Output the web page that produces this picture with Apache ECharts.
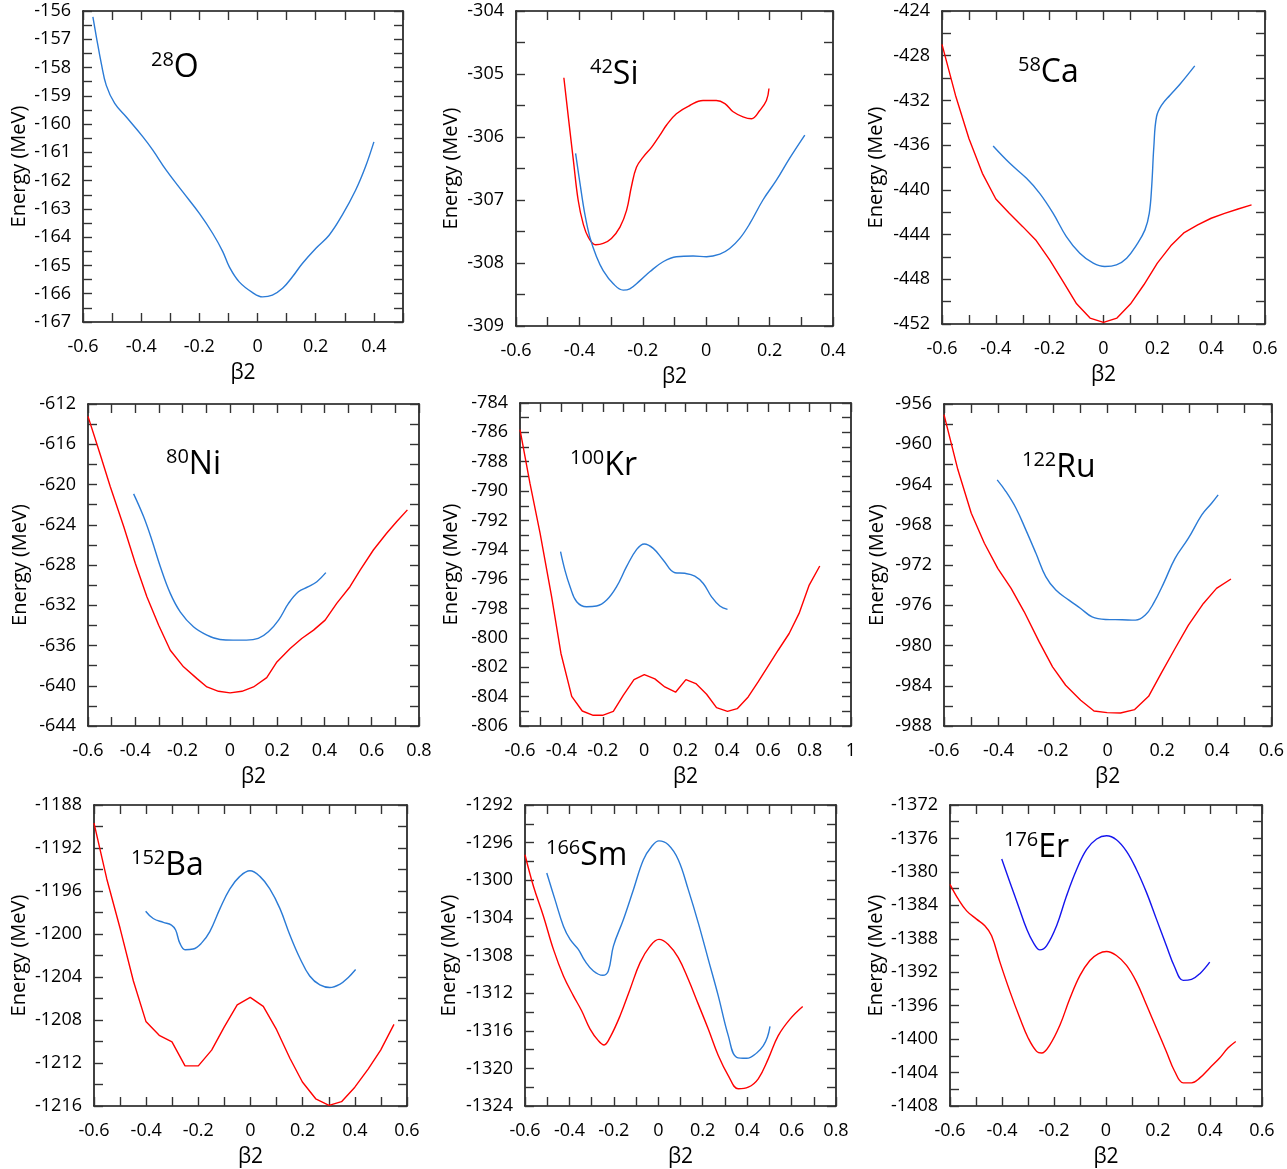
<!DOCTYPE html>
<html><head><meta charset="utf-8">
<script src="https://cdn.jsdelivr.net/npm/echarts@6/dist/echarts.min.js"></script>
<style>html,body{margin:0;padding:0;background:#fff}#c{width:1287px;height:1169px}</style>
</head><body><div id="c"></div>
<script>
// ---------- data: [beta2, energy (MeV)] ----------
const o28Blue = [[-0.566,-156.21],[-0.554,-156.92],[-0.537,-157.86],[-0.52,-158.63],[-0.491,-159.27],[-0.451,-159.75],[-0.394,-160.45],[-0.36,-160.92],[-0.314,-161.63],[-0.257,-162.4],[-0.2,-163.16],[-0.154,-163.87],[-0.12,-164.5],[-0.097,-165.05],[-0.063,-165.58],[-0.017,-165.96],[0.017,-166.11],[0.051,-166.05],[0.086,-165.81],[0.12,-165.4],[0.154,-164.93],[0.2,-164.4],[0.246,-163.93],[0.291,-163.22],[0.337,-162.34],[0.371,-161.51],[0.4,-160.63]];

const si42Red = [[-0.449,-305.06],[-0.435,-305.68],[-0.419,-306.37],[-0.404,-307.0],[-0.388,-307.38],[-0.372,-307.59],[-0.349,-307.71],[-0.325,-307.69],[-0.299,-307.61],[-0.272,-307.43],[-0.251,-307.16],[-0.236,-306.79],[-0.22,-306.48],[-0.199,-306.32],[-0.172,-306.16],[-0.146,-305.97],[-0.125,-305.81],[-0.094,-305.63],[-0.052,-305.5],[-0.01,-305.42],[0.032,-305.42],[0.059,-305.47],[0.085,-305.6],[0.116,-305.68],[0.143,-305.71],[0.169,-305.58],[0.19,-305.42],[0.198,-305.23]];
const si42Blue = [[-0.412,-306.26],[-0.398,-306.74],[-0.383,-307.22],[-0.367,-307.59],[-0.346,-307.9],[-0.325,-308.12],[-0.293,-308.33],[-0.262,-308.43],[-0.241,-308.41],[-0.209,-308.28],[-0.178,-308.14],[-0.136,-307.98],[-0.094,-307.9],[-0.041,-307.89],[0.001,-307.9],[0.043,-307.86],[0.074,-307.77],[0.106,-307.61],[0.137,-307.38],[0.179,-307.0],[0.221,-306.69],[0.263,-306.34],[0.311,-305.97]];

const ca58Red = [[-0.6,-426.98],[-0.55,-431.53],[-0.5,-435.4],[-0.45,-438.52],[-0.4,-440.82],[-0.35,-442.1],[-0.3,-443.29],[-0.25,-444.54],[-0.2,-446.26],[-0.15,-448.2],[-0.1,-450.19],[-0.05,-451.47],[0,-451.86],[0.05,-451.47],[0.1,-450.22],[0.15,-448.49],[0.2,-446.56],[0.25,-445.01],[0.3,-443.82],[0.35,-443.14],[0.4,-442.54],[0.45,-442.1],[0.5,-441.71],[0.55,-441.35]];
const ca58Blue = [[-0.41,-436.08],[-0.348,-437.63],[-0.286,-438.97],[-0.237,-440.31],[-0.187,-442.1],[-0.138,-444.18],[-0.088,-445.67],[-0.038,-446.56],[0.005,-446.86],[0.048,-446.71],[0.086,-446.11],[0.123,-444.92],[0.154,-443.58],[0.17,-442.1],[0.179,-439.71],[0.187,-436.14],[0.197,-433.46],[0.216,-432.42],[0.247,-431.53],[0.284,-430.55],[0.339,-428.91]];

const ni80Red = [[-0.6,-613.23],[-0.548,-617.05],[-0.506,-620.2],[-0.449,-624.18],[-0.4,-627.83],[-0.351,-631.15],[-0.301,-633.98],[-0.252,-636.47],[-0.196,-638.12],[-0.139,-639.29],[-0.097,-640.12],[-0.048,-640.55],[0.001,-640.71],[0.051,-640.55],[0.1,-640.12],[0.156,-639.19],[0.199,-637.63],[0.255,-636.3],[0.304,-635.3],[0.354,-634.47],[0.403,-633.48],[0.452,-631.82],[0.508,-630.16],[0.551,-628.5],[0.607,-626.51],[0.663,-624.85],[0.706,-623.68],[0.751,-622.52]];
const ni80Blue = [[-0.407,-620.93],[-0.365,-623.19],[-0.33,-625.51],[-0.294,-628.17],[-0.252,-630.82],[-0.21,-632.65],[-0.154,-634.14],[-0.097,-634.97],[-0.042,-635.4],[0.014,-635.47],[0.07,-635.47],[0.12,-635.3],[0.163,-634.64],[0.206,-633.48],[0.248,-631.82],[0.29,-630.66],[0.332,-630.16],[0.368,-629.66],[0.406,-628.76]];

const kr100Red = [[-0.6,-785.82],[-0.552,-789.46],[-0.503,-792.87],[-0.447,-797.2],[-0.402,-801.06],[-0.35,-803.98],[-0.299,-804.98],[-0.246,-805.27],[-0.201,-805.27],[-0.149,-805.0],[-0.101,-803.91],[-0.049,-802.84],[0.001,-802.5],[0.052,-802.79],[0.1,-803.34],[0.152,-803.7],[0.202,-802.84],[0.25,-803.11],[0.302,-803.84],[0.35,-804.75],[0.403,-805.0],[0.45,-804.82],[0.503,-804.02],[0.551,-803.0],[0.6,-801.91],[0.648,-800.84],[0.701,-799.7],[0.749,-798.33],[0.798,-796.4],[0.849,-795.1]];
const kr100Blue = [[-0.404,-794.13],[-0.383,-795.38],[-0.358,-796.51],[-0.326,-797.54],[-0.278,-797.88],[-0.23,-797.83],[-0.181,-797.42],[-0.133,-796.51],[-0.085,-795.15],[-0.036,-793.97],[0.001,-793.6],[0.044,-793.9],[0.092,-794.69],[0.149,-795.56],[0.197,-795.6],[0.245,-795.79],[0.286,-796.29],[0.326,-797.2],[0.366,-797.83],[0.403,-798.06]];

const ru122Red = [[-0.6,-957.06],[-0.549,-962.54],[-0.5,-966.85],[-0.452,-969.84],[-0.403,-972.33],[-0.354,-974.32],[-0.306,-976.65],[-0.251,-979.64],[-0.202,-982.12],[-0.154,-983.95],[-0.099,-985.44],[-0.05,-986.51],[-0.002,-986.67],[0.047,-986.71],[0.099,-986.37],[0.15,-985.05],[0.199,-982.62],[0.247,-980.3],[0.296,-977.98],[0.351,-975.82],[0.399,-974.32],[0.452,-973.39]];
const ru122Blue = [[-0.405,-963.54],[-0.373,-964.7],[-0.336,-966.36],[-0.3,-968.51],[-0.263,-970.84],[-0.227,-973.16],[-0.19,-974.49],[-0.142,-975.49],[-0.099,-976.32],[-0.057,-977.15],[-0.008,-977.41],[0.053,-977.44],[0.102,-977.48],[0.138,-976.98],[0.168,-975.82],[0.205,-973.83],[0.247,-971.34],[0.296,-969.34],[0.345,-967.02],[0.381,-965.86],[0.405,-965.03]];

const ba152Red = [[-0.6,-1189.68],[-0.551,-1194.88],[-0.5,-1199.47],[-0.449,-1204.37],[-0.401,-1208.13],[-0.35,-1209.42],[-0.301,-1210.03],[-0.251,-1212.27],[-0.2,-1212.27],[-0.149,-1210.8],[-0.101,-1208.66],[-0.051,-1206.6],[-0.001,-1205.9],[0.049,-1206.73],[0.1,-1208.9],[0.151,-1211.56],[0.199,-1213.77],[0.25,-1215.33],[0.301,-1215.94],[0.349,-1215.6],[0.4,-1214.25],[0.451,-1212.57],[0.499,-1210.8],[0.55,-1208.41]];
const ba152Blue = [[-0.402,-1197.88],[-0.373,-1198.56],[-0.334,-1198.92],[-0.303,-1199.17],[-0.287,-1199.63],[-0.271,-1200.85],[-0.251,-1201.46],[-0.22,-1201.4],[-0.188,-1200.85],[-0.156,-1199.78],[-0.117,-1197.64],[-0.079,-1195.8],[-0.041,-1194.64],[-0.002,-1194.12],[0.036,-1194.64],[0.074,-1195.8],[0.113,-1197.64],[0.151,-1200.09],[0.189,-1202.23],[0.227,-1203.91],[0.266,-1204.74],[0.304,-1204.98],[0.342,-1204.68],[0.374,-1204.06],[0.403,-1203.3]];

const sm166Red = [[-0.6,-1297.29],[-0.562,-1300.64],[-0.517,-1303.82],[-0.472,-1307.35],[-0.427,-1310.17],[-0.382,-1312.29],[-0.345,-1313.88],[-0.307,-1315.82],[-0.27,-1317.05],[-0.244,-1317.51],[-0.217,-1316.7],[-0.172,-1314.41],[-0.127,-1311.58],[-0.082,-1308.76],[-0.037,-1307.0],[0.003,-1306.29],[0.045,-1306.82],[0.09,-1308.23],[0.135,-1310.53],[0.18,-1313.17],[0.225,-1315.82],[0.27,-1318.64],[0.315,-1320.76],[0.36,-1322.17],[0.405,-1322.0],[0.45,-1321.11],[0.495,-1318.99],[0.54,-1316.52],[0.593,-1314.76],[0.65,-1313.42]];
const sm166Blue = [[-0.502,-1299.23],[-0.465,-1302.06],[-0.427,-1304.88],[-0.397,-1306.29],[-0.36,-1307.35],[-0.33,-1308.58],[-0.292,-1309.64],[-0.25,-1310.1],[-0.225,-1309.64],[-0.202,-1307.0],[-0.157,-1304.17],[-0.112,-1301.0],[-0.067,-1297.82],[-0.03,-1296.41],[0.003,-1295.81],[0.045,-1296.23],[0.09,-1297.82],[0.135,-1301.0],[0.18,-1304.53],[0.225,-1308.41],[0.27,-1312.29],[0.315,-1316.52],[0.353,-1318.82],[0.398,-1318.92],[0.443,-1318.36],[0.473,-1317.58],[0.491,-1316.7],[0.503,-1315.54]];

const er176Red = [[-0.6,-1381.49],[-0.568,-1383.27],[-0.536,-1384.66],[-0.498,-1385.65],[-0.466,-1386.44],[-0.44,-1387.63],[-0.408,-1390.79],[-0.369,-1394.35],[-0.331,-1397.51],[-0.299,-1399.89],[-0.267,-1401.47],[-0.248,-1401.67],[-0.216,-1400.68],[-0.177,-1398.31],[-0.139,-1395.14],[-0.1,-1392.37],[-0.062,-1390.59],[-0.03,-1389.8],[0.002,-1389.52],[0.04,-1390.0],[0.079,-1391.19],[0.117,-1393.16],[0.156,-1395.93],[0.194,-1398.7],[0.232,-1401.47],[0.264,-1403.84],[0.297,-1405.23],[0.329,-1405.23],[0.361,-1404.64],[0.399,-1403.45],[0.437,-1402.26],[0.469,-1401.07],[0.499,-1400.28]];
const er176Blue = [[-0.401,-1378.45],[-0.369,-1381.3],[-0.337,-1384.07],[-0.305,-1386.84],[-0.28,-1388.42],[-0.254,-1389.33],[-0.228,-1388.81],[-0.19,-1386.44],[-0.152,-1382.88],[-0.113,-1379.71],[-0.075,-1377.34],[-0.036,-1376.07],[0.002,-1375.68],[0.04,-1376.15],[0.079,-1377.54],[0.117,-1379.71],[0.156,-1382.48],[0.194,-1385.65],[0.232,-1388.81],[0.264,-1391.38],[0.297,-1392.97],[0.329,-1392.85],[0.361,-1392.17],[0.399,-1390.79]];

// nuclide labels
const massNumbers = ['28','42','58','80','100','122','152','166','176'];
const elements = ['O','Si','Ca','Ni','Kr','Ru','Ba','Sm','Er'];
// axis ranges
const xRanges = [[-0.6,0.5],[-0.6,0.4],[-0.6,0.6],[-0.6,0.8],[-0.6,1.0],[-0.6,0.6],[-0.6,0.6],[-0.6,0.8],[-0.6,0.6]];
const yRanges = [[-167,-156,1],[-309,-304,1],[-452,-424,4],[-644,-612,4],[-806,-784,2],[-988,-956,4],[-1216,-1188,4],[-1324,-1292,4],[-1408,-1372,4]];
const blueSeries = [o28Blue, si42Blue, ca58Blue, ni80Blue, kr100Blue, ru122Blue, ba152Blue, sm166Blue, er176Blue];
const redSeries = [null, si42Red, ca58Red, ni80Red, kr100Red, ru122Red, ba152Red, sm166Red, er176Red];
const redSmooth = [false, true, false, false, false, false, false, true, true];
const xTitle = 'β2';
const yTitle = 'Energy (MeV)';

// ---------- layout / style ----------
const grids = [
  {left:83, top:11, width:320, height:311},
  {left:516, top:11, width:317, height:315},
  {left:942, top:11, width:323, height:313},
  {left:88, top:404, width:331, height:322},
  {left:520, top:403, width:331, height:323},
  {left:944, top:404, width:329, height:322},
  {left:94, top:805, width:313, height:305},
  {left:525, top:805, width:311, height:302},
  {left:950, top:805, width:312, height:303}
];
const yNameGap = [54,55,56,58,59,57,65,66,64];
const labelPos = [[151,55],[590,62],[1018,60],[166,452],[570,453],[1022,455],[131,853],[546,843],[1004,835]];
const blueColors = ['#2b7bd6','#2b7bd6','#2b7bd6','#2b7bd6','#2b7bd6','#2b7bd6','#2b7bd6','#2b7bd6','#1515ee'];
const FONT = '"Open Sans", Lato, sans-serif';

function xfmt(v){
  const k = Math.round(v*10);
  if (k % 2 !== 0) return '';
  if (k === 0) return '0';
  if (k % 10 === 0) return String(k/10);
  return (k/10).toFixed(1);
}
function yfmt(v){ return String(Math.round(v)); }

const lineCol = '#111';
const tickStyle = {color:'#333', width:1.4};
const option = {animation:false, backgroundColor:'#fff', grid:[], xAxis:[], yAxis:[], series:[], title:[]};

grids.forEach((g,i)=>{
  option.grid.push(Object.assign({containLabel:false}, g));
  const [x0,x1] = xRanges[i];
  const [y0,y1,ys] = yRanges[i];
  const base = {gridIndex:i, type:'value', splitLine:{show:false}};
  option.xAxis.push(Object.assign({}, base, {
    position:'bottom', min:x0, max:x1, interval:0.1,
    axisLine:{show:true, onZero:false, lineStyle:{color:lineCol, width:1.6}},
    axisTick:{show:true, inside:true, length:9, lineStyle:tickStyle},
    axisLabel:{show:true, formatter:xfmt, fontFamily:FONT, fontSize:18, color:'#000', margin:16, showMinLabel:true, showMaxLabel:true, hideOverlap:false},
    name:xTitle, nameLocation:'middle', nameGap:41,
    nameTextStyle:{fontFamily:FONT, fontSize:21, color:'#000'}
  }));
  option.xAxis.push(Object.assign({}, base, {
    position:'top', min:x0, max:x1, interval:0.1,
    axisLine:{show:true, onZero:false, lineStyle:{color:lineCol, width:1.6}},
    axisTick:{show:true, inside:true, length:9, lineStyle:tickStyle},
    axisLabel:{show:false}
  }));
  option.yAxis.push(Object.assign({}, base, {
    position:'left', min:y0, max:y1, interval:ys,
    axisLine:{show:true, onZero:false, lineStyle:{color:lineCol, width:1.6}},
    axisTick:{show:true, inside:true, length:9, lineStyle:tickStyle},
    minorTick:{show:true, splitNumber:2, length:9, lineStyle:tickStyle},
    axisLabel:{show:true, formatter:yfmt, fontFamily:FONT, fontSize:18, color:'#000', margin:12, showMinLabel:true, showMaxLabel:true, hideOverlap:false},
    name:yTitle, nameLocation:'middle', nameGap:yNameGap[i], nameRotate:90,
    nameTextStyle:{fontFamily:FONT, fontSize:20, color:'#000'}
  }));
  option.yAxis.push(Object.assign({}, base, {
    position:'right', min:y0, max:y1, interval:ys,
    axisLine:{show:true, onZero:false, lineStyle:{color:lineCol, width:1.6}},
    axisTick:{show:true, inside:true, length:9, lineStyle:tickStyle},
    minorTick:{show:true, splitNumber:2, length:9, lineStyle:tickStyle},
    axisLabel:{show:false}
  }));
  if (redSeries[i]) option.series.push({
    type:'line', name:'red'+i, xAxisIndex:2*i, yAxisIndex:2*i, data:redSeries[i],
    symbol:'none', smooth:redSmooth[i] ? 0.4 : false, lineStyle:{color:'#ff0000', width:1.4}, z:3
  });
  option.series.push({
    type:'line', name:'blue'+i, xAxisIndex:2*i, yAxisIndex:2*i, data:blueSeries[i],
    symbol:'none', smooth:0.4, lineStyle:{color:blueColors[i], width:1.4}, z:3
  });
  option.title.push({
    text:'{s|'+massNumbers[i]+'}{b|'+elements[i]+'}',
    left:labelPos[i][0], top:labelPos[i][1]-5, padding:0,
    textStyle:{fontWeight:'normal', rich:{
      s:{fontFamily:FONT, fontSize:20, fontWeight:'normal', color:'#000', verticalAlign:'top', lineHeight:22},
      b:{fontFamily:FONT, fontSize:32, fontWeight:'normal', color:'#000', verticalAlign:'bottom', lineHeight:34}
    }}
  });
});

const chart = echarts.init(document.getElementById('c'), null, {renderer:'canvas'});
chart.setOption(option);
</script>
</body></html>
